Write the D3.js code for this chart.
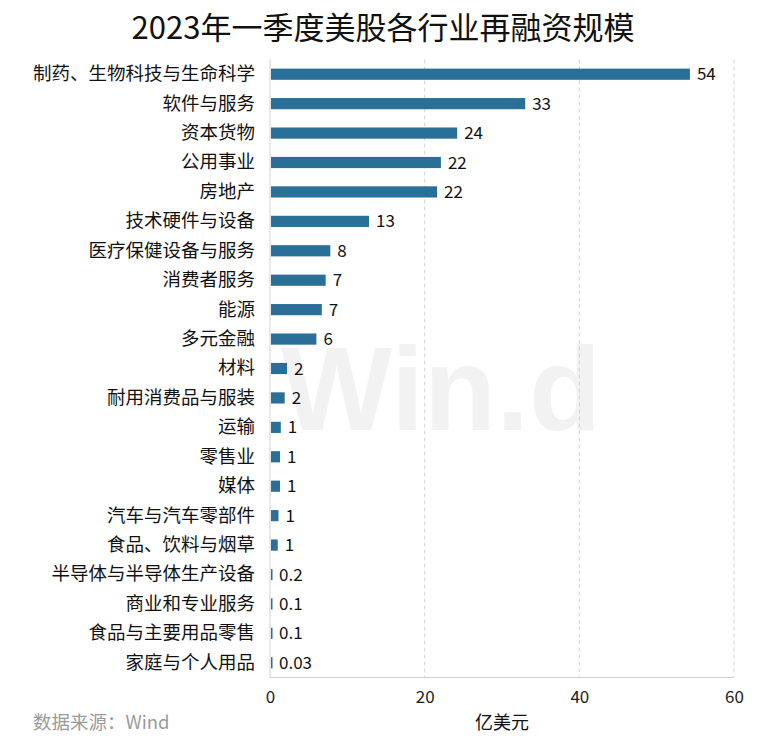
<!DOCTYPE html>
<html><head><meta charset="utf-8">
<script src="https://cdn.jsdelivr.net/npm/d3@7/dist/d3.min.js"></script>
<style>body{margin:0;background:#fff;}svg{display:block;font-family:"Noto Sans CJK SC","Noto Sans",sans-serif;}</style>
</head><body><div id="chart"></div>
<script>
const categories = ["制药、生物科技与生命科学","软件与服务","资本货物","公用事业","房地产","技术硬件与设备","医疗保健设备与服务","消费者服务","能源","多元金融","材料","耐用消费品与服装","运输","零售业","媒体","汽车与汽车零部件","食品、饮料与烟草","半导体与半导体生产设备","商业和专业服务","食品与主要用品零售","家庭与个人用品"];
const values = [54.3,33,24.2,22.1,21.6,12.8,7.8,7.2,6.7,6.0,2.2,1.9,1.4,1.3,1.3,1.1,1.0,0.2,0.1,0.1,0.03];
const valueLabels = ["54","33","24","22","22","13","8","7","7","6","2","2","1","1","1","1","1","0.2","0.1","0.1","0.03"];
const xTicks = [0,20,40,60];

const W=766,H=746;
const svg=d3.select("#chart").append("svg").attr("width",W).attr("height",H);
const m={left:270,right:32,top:59.5,bottom:68.5};
const x=d3.scaleLinear().domain([0,60]).range([m.left,734]);
const y=d3.scaleBand().domain(categories).range([m.top,H-m.bottom]).paddingInner(0.62).paddingOuter(0.31);

svg.append("text").attr("x",383).attr("y",39).attr("text-anchor","middle")
  .attr("font-size",31).attr("fill","#111").text("2023年一季度美股各行业再融资规模");

// watermark
svg.append("text").attr("x",441).attr("y",430).attr("text-anchor","middle")
  .attr("font-family","Liberation Sans, Arial, sans-serif").attr("font-weight","bold")
  .attr("font-size",118).attr("fill","#f2f2f2").text("Win.d");

// gridlines
svg.append("g").selectAll("line").data(xTicks.slice(1)).join("line")
  .attr("x1",d=>x(d)).attr("x2",d=>x(d)).attr("y1",m.top).attr("y2",H-m.bottom)
  .attr("stroke","#d4d4d4").attr("stroke-dasharray","4,3");

// axes lines
svg.append("line").attr("x1",x(0)).attr("x2",x(0)).attr("y1",m.top).attr("y2",H-m.bottom).attr("stroke","#d0d0d0");
svg.append("line").attr("x1",x(0)).attr("x2",x(60)).attr("y1",H-m.bottom).attr("y2",H-m.bottom).attr("stroke","#d0d0d0");

// x tick labels via axis
const xa=svg.append("g").attr("transform",`translate(0,${H-m.bottom})`)
  .call(d3.axisBottom(x).tickValues(xTicks).tickSize(0).tickPadding(13));
xa.select(".domain").remove();
xa.selectAll("text").attr("font-size",17).attr("fill","#222").attr("font-family","\"Noto Sans CJK SC\",sans-serif");

// y labels
const ya=svg.append("g").attr("transform",`translate(${m.left},0)`)
  .call(d3.axisLeft(y).tickSize(0).tickPadding(15));
ya.select(".domain").remove();
ya.selectAll("text").attr("font-size",18.5).attr("fill","#111").attr("font-family","\"Noto Sans CJK SC\",sans-serif");

// bars
svg.append("g").selectAll("rect").data(categories).join("rect")
  .attr("x",x(0)+1).attr("y",d=>y(d)).attr("height",y.bandwidth())
  .attr("width",(d,i)=>Math.max(1.5,x(values[i])-x(0)-1)).attr("fill","#2a6f98");

// value labels
svg.append("g").selectAll("text").data(categories).join("text")
  .attr("x",(d,i)=>Math.max(x(0)+2,x(values[i]))+7).attr("y",d=>y(d)+y.bandwidth()/2)
  .attr("dy","0.36em").attr("font-size",17).attr("fill","#111")
  .text((d,i)=>valueLabels[i]);

svg.append("text").attr("x",502).attr("y",729).attr("text-anchor","middle").attr("font-size",18).attr("fill","#111").text("亿美元");
svg.append("text").attr("x",33).attr("y",729).attr("font-size",18.5).attr("fill","#9a9a9a").text("数据来源：Wind");
</script></body></html>
